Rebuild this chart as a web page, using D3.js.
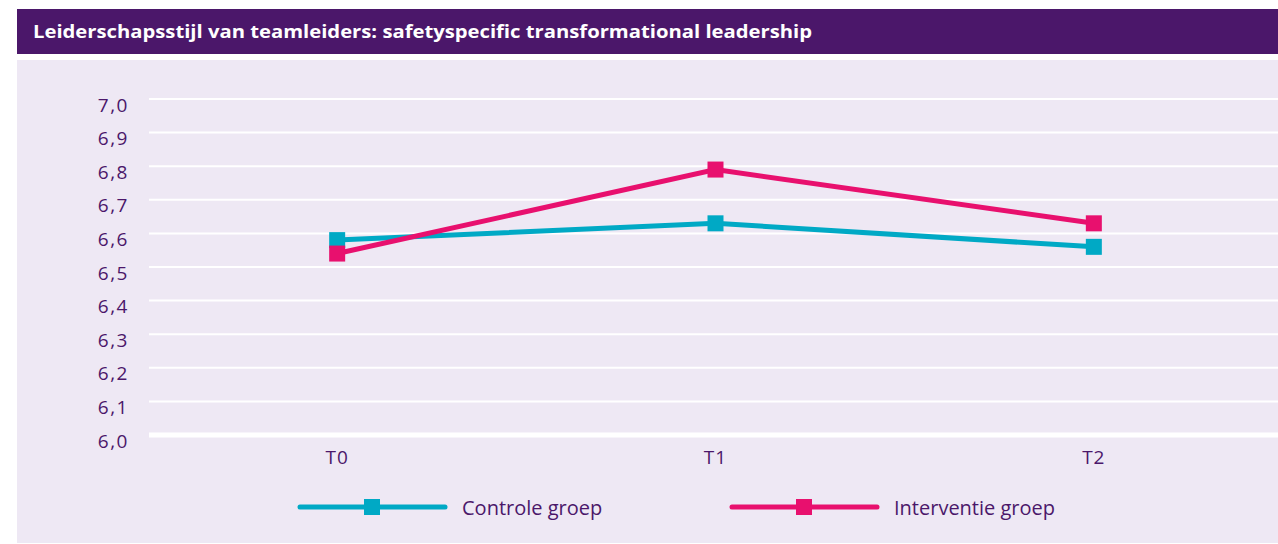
<!DOCTYPE html>
<html>
<head>
<meta charset="utf-8">
<script src="https://cdn.jsdelivr.net/npm/d3@7"></script>
<style>
  body { margin: 0; background: #fff; }
  svg  { display: block; }
  text { font-family: "Open Sans", Lato, sans-serif; }
</style>
</head>
<body>
<div id="chart"></div>
<script>
'use strict';

const title     = 'Leiderschapsstijl van teamleiders: safetyspecific transformational leadership'
const moments   = ['T0', 'T1', 'T2']
const controle  = [6.58, 6.63, 6.56]
const interventie = [6.54, 6.79, 6.63]
const yTicks    = [6.0, 6.1, 6.2, 6.3, 6.4, 6.5, 6.6, 6.7, 6.8, 6.9, 7.0]

const series = [
  { name: 'Controle groep',    values: controle,    color: '#00a9c5' },
  { name: 'Interventie groep', values: interventie, color: '#e8106e' }
]

const W = 1278, H = 544
const purple = '#4b176a'
const plot = { left: 148, right: 1283, top: 99, bottom: 435 }

const svg = d3.select('#chart').append('svg')
  .attr('width', W)
  .attr('height', H)

// title bar + panel
svg.append('rect').attr('x', 17).attr('y', 9).attr('width', W - 17).attr('height', 45).attr('fill', purple)
svg.append('text')
  .attr('x', 33).attr('y', 38)
  .attr('fill', '#fff')
  .attr('font-size', 17)
  .attr('font-weight', 700)
  .attr('textLength', 779)
  .attr('lengthAdjust', 'spacingAndGlyphs')
  .text(title)
svg.append('rect').attr('x', 17).attr('y', 60).attr('width', W - 17).attr('height', H - 61).attr('fill', '#eee8f4')

const x = d3.scaleBand().domain(moments).range([plot.left, plot.right])
const y = d3.scaleLinear().domain([6.0, 7.0]).range([plot.bottom, plot.top])
const fmt = (v) => d3.format('.1f')(v).replace('.', ',')

// gridlines
svg.append('g')
  .selectAll('line')
  .data(yTicks)
  .enter()
  .append('line')
    .attr('x1', plot.left + 1)
    .attr('x2', plot.right)
    .attr('y1', (d) => y(d))
    .attr('y2', (d) => y(d))
    .attr('stroke', '#fff')
    .attr('stroke-width', (d) => d === 6.0 ? 5 : 2)

// y labels (sit just under their gridline, as in the original)
svg.append('g')
  .selectAll('text')
  .data(yTicks)
  .enter()
  .append('text')
    .attr('x', 129)
    .attr('y', (d) => y(d) + 12.5)
    .attr('text-anchor', 'end')
    .attr('fill', purple)
    .attr('font-size', 19)
    .attr('letter-spacing', 1.5)
    .text(fmt)

// x labels
svg.append('g')
  .selectAll('text')
  .data(moments)
  .enter()
  .append('text')
    .attr('x', (d) => x(d) + x.bandwidth() / 2)
    .attr('y', 464)
    .attr('text-anchor', 'middle')
    .attr('fill', purple)
    .attr('font-size', 19)
    .attr('letter-spacing', 1)
    .text((d) => d)

// lines + markers
const line = d3.line()
  .x((v, i) => x(moments[i]) + x.bandwidth() / 2)
  .y((v) => y(v))

series.forEach((s) => {
  const g = svg.append('g')
  g.append('path')
    .attr('d', line(s.values))
    .attr('fill', 'none')
    .attr('stroke', s.color)
    .attr('stroke-width', 5)
  g.selectAll('rect')
    .data(s.values)
    .enter()
    .append('rect')
      .attr('x', (v, i) => x(moments[i]) + x.bandwidth() / 2 - 8)
      .attr('y', (v) => y(v) - 8)
      .attr('width', 16)
      .attr('height', 16)
      .attr('fill', s.color)
})

// legend
const legend = [{ x0: 300 }, { x0: 732 }]
series.forEach((s, i) => {
  const lx = legend[i].x0, ly = 507
  const g = svg.append('g')
  g.append('line')
    .attr('x1', lx).attr('x2', lx + 145)
    .attr('y1', ly).attr('y2', ly)
    .attr('stroke', s.color)
    .attr('stroke-width', 5)
    .attr('stroke-linecap', 'round')
  g.append('rect')
    .attr('x', lx + 72 - 8).attr('y', ly - 8)
    .attr('width', 16).attr('height', 16)
    .attr('fill', s.color)
  g.append('text')
    .attr('x', lx + 162).attr('y', ly + 8)
    .attr('fill', purple)
    .attr('font-size', 20)
    .text(s.name)
})
</script>
</body>
</html>
